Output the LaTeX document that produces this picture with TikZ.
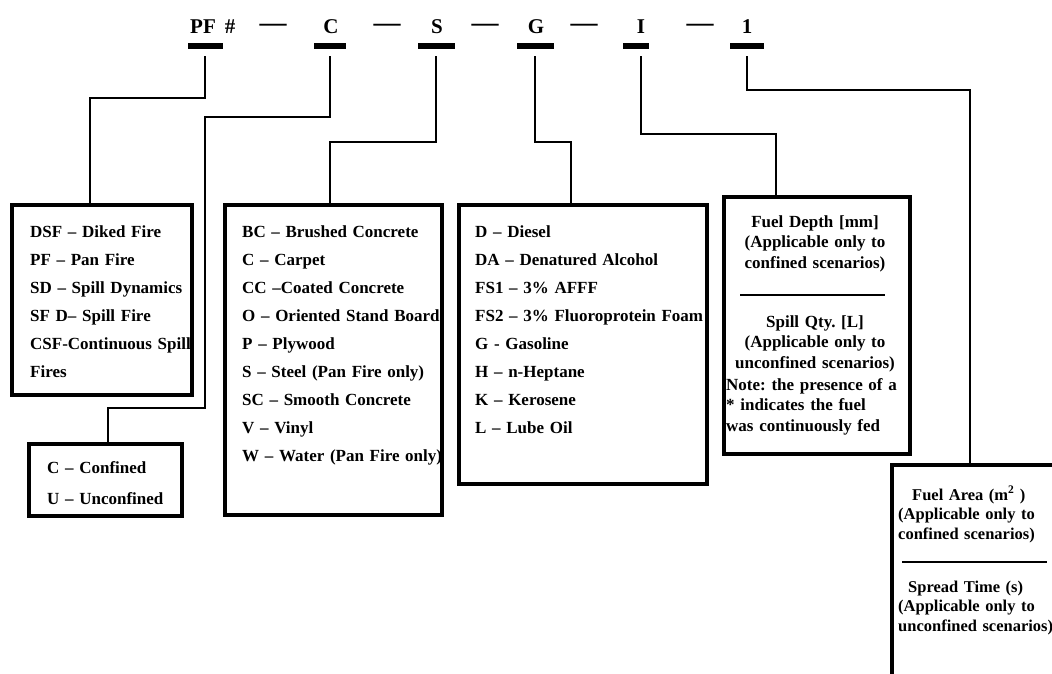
\documentclass[tikz,border=0pt]{standalone}
\usepackage{fontspec}
\setmainfont{Liberation Serif}
\frenchspacing
\usetikzlibrary{calc}

\begin{document}
\begin{tikzpicture}[
    x=1pt, y=-1pt,
    codelbl/.style={font=\fontsize{21}{21}\selectfont\bfseries, anchor=base, inner sep=0pt},
    codedash/.style={font=\fontsize{27}{27}\selectfont\bfseries, anchor=base, inner sep=0pt},
    codebar/.style={fill=black, inner sep=0pt, minimum height=6pt},
    listbox/.style={draw=black, line width=3.6pt, inner sep=0pt, anchor=north west},
    listtext/.style={font=\fontsize{17}{28}\selectfont\bfseries, align=left,
      text width=250pt, anchor=base west, inner sep=0pt},
    blocktext/.style={font=\fontsize{17}{20.5}\selectfont\bfseries, align=center,
      text width=200pt, anchor=base, inner sep=0pt},
    notetext/.style={blocktext, align=left, anchor=base west},
    conn/.style={line width=2.6pt, shorten <=7pt},
    divider/.style={line width=2pt},
]
\clip (0,0) rectangle (1052,673);

% Code row
\node[codelbl, anchor=base west] (pf) at (190,33) {PF\hspace{9pt}\#};
\node[codelbl] (c) at (331,33) {C};
\node[codelbl] (s) at (437,33) {S};
\node[codelbl] (g) at (536,33) {G};
\node[codelbl] (i) at (641,33) {I};
\node[codelbl] (one) at (747,33) {1};
\foreach \x [count=\k] in {273,387,485,584,700}
  \node[codedash] (d\k) at (\x,31) {---};

\node[codebar, minimum width=35pt] (bPF) at (205,46) {};
\node[codebar, minimum width=32pt] (bC) at (330,46) {};
\node[codebar, minimum width=37pt] (bS) at (436,46) {};
\node[codebar, minimum width=37pt] (bG) at (535,46) {};
\node[codebar, minimum width=26pt] (bI) at (636,46) {};
\node[codebar, minimum width=34pt] (bOne) at (747,46) {};

% Boxes
\node[listbox, minimum width=180pt, minimum height=190pt] (dsf) at (10,203) {};
\node[listbox, minimum width=153pt, minimum height=72pt] (conf) at (27,442) {};
\node[listbox, minimum width=217pt, minimum height=310pt] (surf) at (223,203) {};
\node[listbox, minimum width=248pt, minimum height=279pt] (fuel) at (457,203) {};
\node[listbox, minimum width=186pt, minimum height=257pt] (depth) at (722,195) {};
\node[listbox, minimum width=200pt, minimum height=260pt] (area) at (890,463) {};

% Box texts
\node[listtext] (dsfT) at (30,237) {DSF -- Diked Fire\\PF -- Pan Fire\\SD -- Spill Dynamics\\
  SF D-- Spill Fire\\CSF-Continuous Spill\\Fires};
\node[listtext, font=\fontsize{17}{31}\selectfont\bfseries] (confT) at (47,473)
  {C -- Confined\\U -- Unconfined};
\node[listtext] (surfT) at (242,237) {BC -- Brushed Concrete\\C -- Carpet\\CC --Coated Concrete\\
  O -- Oriented Stand Board\\P -- Plywood\\S -- Steel (Pan Fire only)\\SC -- Smooth Concrete\\
  V -- Vinyl\\W -- Water (Pan Fire only)};
\node[listtext] (fuelT) at (475,237) {D -- Diesel\\DA -- Denatured Alcohol\\FS1 -- 3\% AFFF\\
  FS2 -- 3\% Fluoroprotein Foam\\G - Gasoline\\H -- n-Heptane\\K -- Kerosene\\L -- Lube Oil};

\node[blocktext] (depthT) at (815,227) {Fuel Depth [mm]\\(Applicable only to\\confined scenarios)};
\draw[divider] (740,295) -- (885,295);
\node[blocktext] (spillT) at (815,327) {Spill Qty. [L]\\(Applicable only to\\unconfined scenarios)};
\node[notetext] (noteT) at (726,390) {Note: the presence of a\\{}* indicates the fuel\\was continuously fed};

\node[notetext, font=\fontsize{16.5}{19.5}\selectfont\bfseries] (areaT) at (898,500)
  {\hspace{14pt}Fuel Area (m\textsuperscript{2} )\\(Applicable only to\\confined scenarios)};
\draw[divider] (902,562) -- (1047,562);
\node[notetext, font=\fontsize{16.5}{19.5}\selectfont\bfseries] (spreadT) at (898,592)
  {\hspace{10pt}Spread Time (s)\\(Applicable only to\\unconfined scenarios)};

% Connectors
\coordinate (kPF) at (90,98);
\draw[conn] (bPF.south) |- (kPF) -- (kPF |- dsf.north);
\coordinate (kC1) at (205,117);
\coordinate (kC2) at (108,408);
\draw[conn] (bC.south) |- (kC1) |- (kC2) -- (kC2 |- conf.north);
\coordinate (kS) at (330,142);
\draw[conn] (bS.south) |- (kS) -- (kS |- surf.north);
\coordinate (kG) at (571,142);
\draw[conn] (bG.south) |- (kG) -- (kG |- fuel.north);
\coordinate (kI) at (776,134);
\draw[conn] ([xshift=5pt]bI.south) |- (kI) -- (kI |- depth.north);
\coordinate (kOne) at (970,90);
\draw[conn] (bOne.south) |- (kOne) -- (kOne |- area.north);
\end{tikzpicture}
\end{document}
